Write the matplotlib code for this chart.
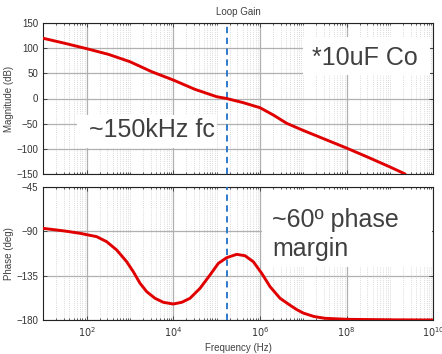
import numpy as np
import matplotlib
matplotlib.use("Agg")
import matplotlib.pyplot as plt
from matplotlib.ticker import FixedLocator, NullFormatter
from matplotlib.patches import Rectangle

plt.rcParams['font.family'] = ['Liberation Sans', 'DejaVu Sans']

# Loop gain Bode data (log10 of frequency in Hz)
mag_logf = [1.0, 1.5, 2.0, 2.5, 3.0, 3.5, 4.0, 4.5, 5.0, 5.23, 5.615, 6.0, 6.308,
            6.617, 7.0, 7.5, 8.0, 8.5, 9.0, 9.35]
mag_db = [119.6, 109.6, 99.0, 87.8, 73.1, 53.3, 36.7, 18.2, 3.6, 0.0, -8.3, -18.3, -32.8,
          -49.3, -63.5, -81.0, -98.5, -117.0, -136.0, -150.0]

ph_logf = [1.0, 1.5, 1.847, 2.232, 2.463, 2.694, 2.925, 3.077, 3.232, 3.386, 3.578, 3.77,
           4.0, 4.2, 4.386, 4.617, 4.847, 5.04, 5.232, 5.463, 5.655, 5.847, 6.04, 6.232,
           6.463, 6.693, 6.85, 7.0, 7.25, 7.5, 8.0, 9.0, 10.0]
ph_deg = [-87.2, -89.9, -92.2, -95.6, -100.7, -109.1, -121.0, -131.1, -142.8, -151.3,
          -158.0, -162.1, -163.8, -162.0, -158.0, -147.9, -134.4, -122.6, -116.9, -113.5,
          -114.9, -121.0, -132.7, -146.2, -158.0, -165.0, -169.5, -173.0, -176.5, -178.3,
          -179.3, -179.8, -180.0]

f_cross = 1.7e5
mag_ticks = [-150, -100, -50, 0, 50, 100, 150]
ph_ticks = [-180, -135, -90, -45]
x_major = [1e2, 1e4, 1e6, 1e8, 1e10]
x_labels = ['$10^{2}$', '$10^{4}$', '$10^{6}$', '$10^{8}$', '$10^{10}$']

txt_col = '#404040'
red = '#e00000'
blue = '#1f6fc8'

W, H = 442, 354
fig = plt.figure(figsize=(W / 100, H / 100), dpi=100)

def px_axes(x0, y0, x1, y1):
    return fig.add_axes([x0 / W, 1 - y1 / H, (x1 - x0) / W, (y1 - y0) / H])

ax1 = px_axes(43.3, 23, 433.3, 174)
ax2 = px_axes(43.3, 186.7, 433.3, 320)

minor = [m * 10.0 ** d for d in range(1, 10) for m in range(1, 10)
         if not (m == 1 and d % 2 == 0)]

for ax in (ax1, ax2):
    ax.set_xscale('log')
    ax.set_xlim(1e1, 1e10)
    ax.xaxis.set_major_locator(FixedLocator(x_major))
    ax.xaxis.set_minor_locator(FixedLocator(minor))
    ax.xaxis.set_minor_formatter(NullFormatter())
    ax.grid(True, which='major', color='#b0b0b0', lw=0.9, ls='-')
    ax.grid(True, which='minor', axis='x', color='#cfcfcf', lw=0.6, ls=(0, (1, 1.5)))
    ax.tick_params(which='both', direction='in', top=True, right=True,
                   labelsize=7, colors='#333333', length=3, width=0.6)
    ax.tick_params(which='minor', length=1.5)
    for s in ax.spines.values():
        s.set_color('#222222')
        s.set_linewidth(0.8)
    ax.set_axisbelow(True)
    ax.axvline(f_cross, color=blue, lw=1.3, ls=(0, (3.5, 2.5)), zorder=4)

# Magnitude
ax1.plot(10.0 ** np.array(mag_logf), mag_db, color=red, lw=2.1, zorder=5,
         solid_joinstyle='round', solid_capstyle='round')
ax1.set_ylim(-150, 150)
ax1.set_yticks(mag_ticks)
ax1.set_xticklabels([])
ax1.set_ylabel('Magnitude (dB)', fontsize=7, color=txt_col, labelpad=2)
ax1.set_title('Loop Gain', fontsize=7, color=txt_col, pad=6)

# Phase
ax2.plot(10.0 ** np.array(ph_logf), ph_deg, color=red, lw=2.1, zorder=5,
         solid_joinstyle='round', solid_capstyle='round')
ax2.set_ylim(-180, -45)
ax2.set_yticks(ph_ticks)
ax2.set_xticklabels(x_labels)
ax2.set_ylabel('Phase (deg)', fontsize=7, color=txt_col, labelpad=2)
ax2.set_xlabel('Frequency (Hz)', fontsize=7, color=txt_col, labelpad=3)

# Annotation boxes
def note_box(ax, x0, y0, x1, y1):
    ax.add_patch(Rectangle((x0, y0), x1 - x0, y1 - y0, transform=ax.transAxes,
                           facecolor='white', edgecolor='none', zorder=6))

note_box(ax1, 0.666, 0.656, 0.992, 0.907)
ax1.text(0.690, 0.722, '*10uF Co', transform=ax1.transAxes, fontsize=18,
         color=txt_col, va='baseline', ha='left', zorder=7)

note_box(ax1, 0.086, 0.172, 0.445, 0.391)
ax1.text(0.118, 0.247, '~150kHz fc', transform=ax1.transAxes, fontsize=18,
         color=txt_col, va='baseline', ha='left', zorder=7)

note_box(ax2, 0.561, 0.398, 0.997, 0.975)
ax2.text(0.586, 0.700, '~60º phase', transform=ax2.transAxes, fontsize=18,
         color=txt_col, va='baseline', ha='left', zorder=7)
ax2.text(0.586, 0.482, 'margin', transform=ax2.transAxes, fontsize=18,
         color=txt_col, va='baseline', ha='left', zorder=7)

fig.savefig('out.png', dpi=100)
